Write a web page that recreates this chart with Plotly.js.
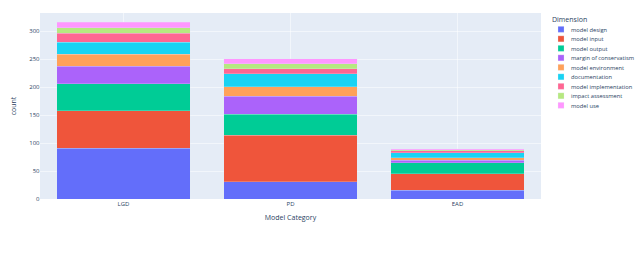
<!DOCTYPE html>
<html>
<head>
<meta charset="utf-8">
<script src="https://cdn.plot.ly/plotly-3.0.1.min.js"></script>
<style>
html,body{margin:0;padding:0;background:#fff;overflow:hidden;}
#wrap{width:640px;height:257px;overflow:hidden;}
#chart{width:1280px;height:514px;transform:scale(0.5);transform-origin:0 0;}
</style>
</head>
<body>
<div id="wrap"><div id="chart"></div></div>
<script>
const categories = ["LGD", "PD", "EAD"];
const dimensions = ["model design", "model input", "model output", "margin of conservatism",
  "model environment", "documentation", "model implementation", "impact assessment", "model use"];
const colors = ["#636EFA", "#EF553B", "#00CC96", "#AB63FA", "#FFA15A", "#19D3F3", "#FF6692", "#B6E880", "#FF97FF"];
const modelDesign = [91, 31, 16];
const modelInput = [67, 83, 29];
const modelOutput = [48, 38, 20];
const marginOfConservatism = [31, 32, 4];
const modelEnvironment = [22, 17, 5];
const documentation = [21, 23, 9];
const modelImplementation = [16, 9, 3];
const impactAssessment = [10, 9, 2];
const modelUse = [10, 9, 2];
const series = [modelDesign, modelInput, modelOutput, marginOfConservatism, modelEnvironment,
  documentation, modelImplementation, impactAssessment, modelUse];

const traces = series.map((vals, i) => ({
  type: "bar",
  name: dimensions[i],
  x: categories,
  y: vals,
  marker: {color: colors[i], line: {color: "#E5ECF6", width: 0.5}}
}));

const layout = {
  width: 1280, height: 514,
  barmode: "stack",
  bargap: 0.2,
  paper_bgcolor: "#fff",
  plot_bgcolor: "#E5ECF6",
  font: {family: '"Open Sans", verdana, arial, sans-serif', size: 12, color: "#2a3f5f"},
  margin: {l: 80, r: 198, t: 26, b: 116, autoexpand: false},
  xaxis: {title: {text: "Model Category", font: {size: 14}, standoff: 16}, gridcolor: "white", showline: false, zeroline: false, ticks: ""},
  yaxis: {title: {text: "count", font: {size: 14}, standoff: 22}, gridcolor: "white", zerolinecolor: "white", zerolinewidth: 2, dtick: 50, ticks: ""},
  legend: {title: {text: "Dimension"}, tracegroupgap: 0, traceorder: "normal", x: 1.02, y: 1, font: {size: 11.5}},
  showlegend: true
};
Plotly.newPlot("chart", traces, layout, {displayModeBar: false, staticPlot: true});
</script>
</body>
</html>
